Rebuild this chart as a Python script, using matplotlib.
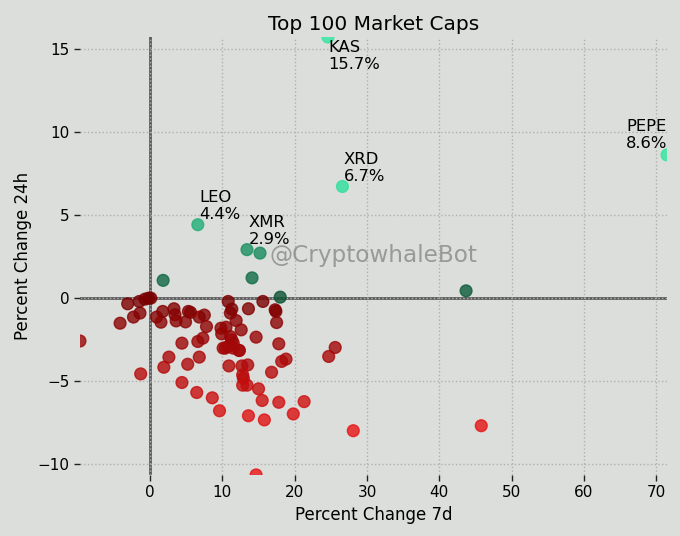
import numpy as np
import matplotlib
matplotlib.use("Agg")
import matplotlib.pyplot as plt
from matplotlib.colors import LinearSegmentedColormap

# Percent change 7d / 24h for the top-100 coins
change_7d = [
    71.5, 24.6, 26.6, 6.6, 13.4, 15.2, 14.1, 1.8, 18.0, 43.7,
    -9.7, -4.15, -3.1, -2.3, -1.4, -1.5, -0.7, -0.2, 0.1, -1.3,
    0.9, 1.5, 1.75, 1.9, 2.6, 3.3, 3.45, 3.6, 4.4, 4.4,
    4.9, 5.2, 5.3, 5.6, 6.45, 6.6, 6.8, 6.8, 7.3, 7.5,
    7.8, 8.6, 9.6, 9.8, 9.9, 10.1, 10.5, 10.8, 10.9, 11.1,
    11.3, 11.1, 11.3, 11.5, 10.8, 10.4, 11.5, 12.35, 11.9, 12.3,
    12.6, 12.7, 13.5, 12.8, 12.9, 12.8, 13.4, 13.6, 13.6, 14.66,
    14.66, 15.0, 15.5, 15.6, 15.8, 16.8, 17.3, 17.4, 17.5, 17.8,
    17.8, 18.2, 18.8, 19.8, 21.3, 24.7, 25.6, 28.1, 45.8,
]
change_24h = [
    8.6, 15.7, 6.7, 4.4, 2.9, 2.69, 1.2, 1.05, 0.04, 0.42,
    -2.6, -1.53, -0.36, -1.16, -0.92, -0.22, -0.08, -0.02, -0.02, -4.58,
    -1.16, -1.47, -0.82, -4.18, -3.57, -0.66, -1.02, -1.39, -2.73, -5.1,
    -1.45, -4.0, -0.82, -0.88, -5.7, -2.63, -3.57, -1.16, -2.43, -1.04,
    -1.73, -6.02, -6.8, -1.83, -2.17, -3.03, -1.77, -0.22, -4.1, -0.92,
    -0.68, -2.33, -2.53, -2.73, -2.93, -3.03, -3.03, -3.17, -1.37, -3.17,
    -1.93, -4.1, -4.04, -4.64, -4.84, -5.26, -5.26, -0.66, -7.1, -2.37,
    -10.66, -5.48, -6.18, -0.22, -7.35, -4.48, -0.72, -0.82, -1.49, -2.77,
    -6.29, -3.83, -3.69, -6.99, -6.25, -3.53, -2.99, -8.0, -7.7,
]
# names of the first five points (the top movers)
labels = ["PEPE", "KAS", "XRD", "LEO", "XMR"]

x = np.array(change_7d)
y = np.array(change_24h)

bg = "#dcdedb"
fig = plt.figure(figsize=(6.8, 5.36), dpi=100, facecolor=bg)
ax = fig.add_axes([0.1176, 0.114, 0.8634, 0.817])
ax.set_facecolor(bg)

reds = LinearSegmentedColormap.from_list("reds", ["#780000", "#e81414"])
greens = LinearSegmentedColormap.from_list("greens", ["#0c5234", "#2ee6a0"])
colors = []
for v in y:
    if v < 0:
        colors.append(reds(min(-v / 8.0, 1.0)))
    else:
        colors.append(greens(min(v / 7.0, 1.0)))

ax.grid(True, linestyle=":", color="#b0b0b0", linewidth=1.0, zorder=0)
ax.axhline(0, color="#5a5a5a", linewidth=2, zorder=1)
ax.axvline(0, color="#5a5a5a", linewidth=2, zorder=1)
ax.scatter(x, y, c=colors, s=72, alpha=0.8, zorder=3)

ax.set_xlim(x.min(), x.max())
ax.set_ylim(y.min(), y.max())
ax.set_xticks([0, 10, 20, 30, 40, 50, 60, 70])
ax.set_yticks([-10, -5, 0, 5, 10, 15])
for s in ax.spines.values():
    s.set_visible(False)
ax.tick_params(labelsize=11, length=4, width=1, colors="#222222", labelcolor="black")

# annotate top movers
for i, name in enumerate(labels):
    txt = f"{name}\n{y[i]:.1f}%"
    xi, yi = x[i], y[i]
    if xi >= x.max() - 1e-9:
        ha, va, off = "right", "bottom", (0, 3)
    elif yi >= y.max() - 1e-9:
        ha, va, off = "left", "top", (0, -2)
    else:
        ha, va, off = "left", "bottom", (1, 2)
    ax.annotate(txt, (xi, yi), xytext=off, textcoords="offset points",
                ha=ha, va=va, fontsize=11.8, linespacing=1.15, zorder=4)

ax.text(0.5, 0.5, "@CryptowhaleBot", transform=ax.transAxes, ha="center",
        va="center", fontsize=16.7, color="#888888", alpha=0.8, zorder=2)

ax.set_title("Top 100 Market Caps", fontsize=14.5, pad=5)
ax.set_xlabel("Percent Change 7d", fontsize=12)
ax.set_ylabel("Percent Change 24h", fontsize=12)

fig.savefig("out.png", dpi=100, facecolor=bg)
